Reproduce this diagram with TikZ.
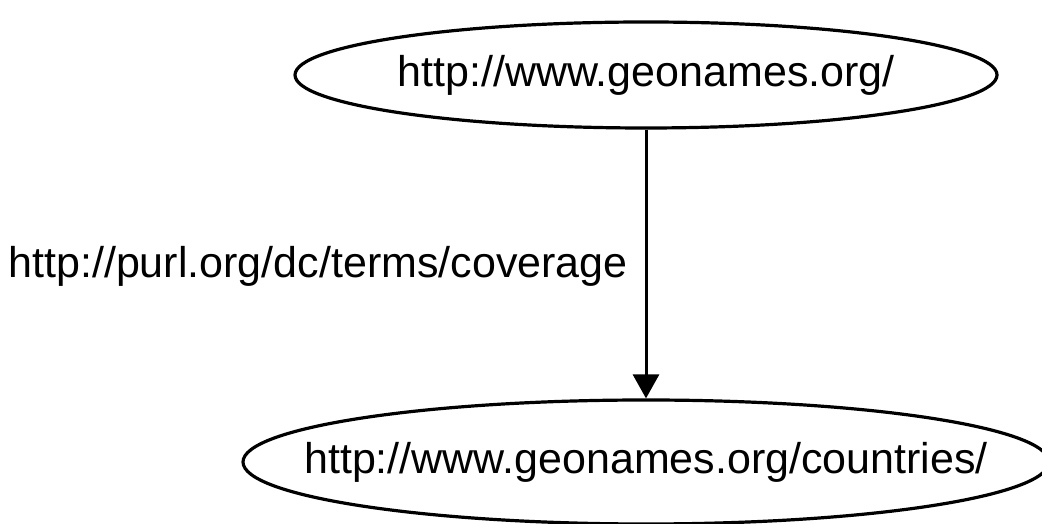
\documentclass[tikz,border=0pt]{standalone}
\usepackage{fontspec}
\setmainfont{Liberation Sans}
\usetikzlibrary{shapes.geometric,arrows.meta}
\begin{document}
\begin{tikzpicture}[x=1pt,y=1pt,
  resnode/.style={draw,ellipse,line width=3.2pt,inner sep=0pt,font=\fontsize{43}{50}\selectfont},
  edgelabel/.style={inner sep=0pt,font=\fontsize{43}{50}\selectfont},
  conn/.style={line width=3pt,-{Triangle[length=24pt,width=26pt]}}]
\useasboundingbox (0,0) rectangle (1042,524);
\node[resnode,minimum width=702pt,minimum height=106pt] (top) at (646,449) {\makebox[0pt]{http://www.geonames.org/}};
\node[resnode,minimum width=806pt,minimum height=124pt] (bot) at (646,62) {\makebox[0pt]{http://www.geonames.org/countries/}};
\node[edgelabel] (lab) at (318,258) {http://purl.org/dc/terms/coverage};
\draw[conn] (top.south) -- (bot.north);
\end{tikzpicture}
\end{document}
